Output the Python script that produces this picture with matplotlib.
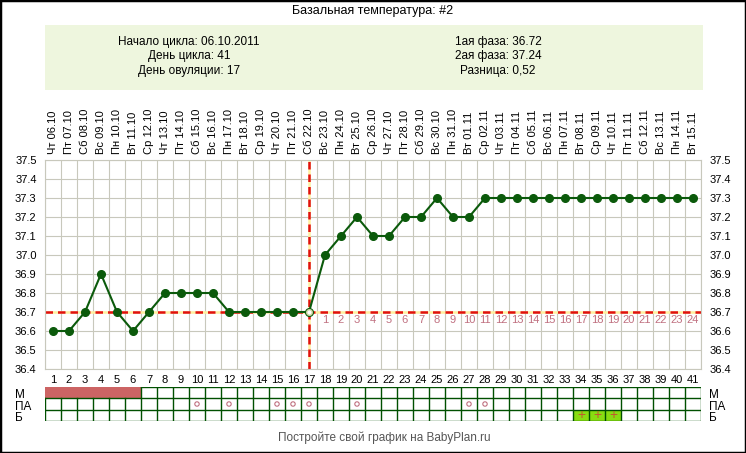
import matplotlib
matplotlib.use('Agg')
import matplotlib.pyplot as plt
import numpy as np
from matplotlib.patches import Rectangle

plt.rcParams['font.family'] = ['Liberation Sans', 'DejaVu Sans']

# data
days = np.arange(1, 42)
temps = [36.6, 36.6, 36.7, 36.9, 36.7, 36.6, 36.7, 36.8, 36.8, 36.8,
         36.8, 36.7, 36.7, 36.7, 36.7, 36.7, 36.7, 37.0, 37.1, 37.2,
         37.1, 37.1, 37.2, 37.2, 37.3, 37.2, 37.2, 37.3, 37.3, 37.3,
         37.3, 37.3, 37.3, 37.3, 37.3, 37.3, 37.3, 37.3, 37.3, 37.3, 37.3]
dates = ['Чт 06.10', 'Пт 07.10', 'Сб 08.10', 'Вс 09.10', 'Пн 10.10', 'Вт 11.10',
         'Ср 12.10', 'Чт 13.10', 'Пт 14.10', 'Сб 15.10', 'Вс 16.10', 'Пн 17.10',
         'Вт 18.10', 'Ср 19.10', 'Чт 20.10', 'Пт 21.10', 'Сб 22.10', 'Вс 23.10',
         'Пн 24.10', 'Вт 25.10', 'Ср 26.10', 'Чт 27.10', 'Пт 28.10', 'Сб 29.10',
         'Вс 30.10', 'Пн 31.10', 'Вт 01.11', 'Ср 02.11', 'Чт 03.11', 'Пт 04.11',
         'Сб 05.11', 'Вс 06.11', 'Пн 07.11', 'Вт 08.11', 'Ср 09.11', 'Чт 10.11',
         'Пт 11.11', 'Сб 12.11', 'Вс 13.11', 'Пн 14.11', 'Вт 15.11']
ovulation_day = 17
cover_line = 36.7
menses_days = [1, 2, 3, 4, 5, 6]
pa_days = [10, 12, 15, 16, 17, 20, 27, 28]
b_days = [34, 35, 36]
yticks = [36.4, 36.5, 36.6, 36.7, 36.8, 36.9, 37.0, 37.1, 37.2, 37.3, 37.4, 37.5]

info_left = ['Начало цикла: 06.10.2011', 'День цикла: 41', 'День овуляции: 17']
info_right = ['1ая фаза: 36.72', '2ая фаза: 37.24', 'Разница: 0,52']

W, H = 746, 453
def px(x0, y0, x1, y1):
    return [x0 / W, 1 - y1 / H, (x1 - x0) / W, (y1 - y0) / H]

grid_c = '#c8c8bc'
green = '#0b5a0b'
pink = '#c07080'
tab_c = '#005000'

fig = plt.figure(figsize=(W / 100, H / 100), dpi=100)
fig.patch.set_facecolor('white')

# frame and header
fig.add_artist(Rectangle((0, 0), 1, 1, transform=fig.transFigure, fill=False,
                         edgecolor='black', lw=2.5))
fig.text(373 / W, 1 - 11 / H, 'Базальная температура: #2', ha='center', va='center', fontsize=9)
fig.add_artist(Rectangle((45 / W, 1 - 90 / H), 658 / W, 65 / H, transform=fig.transFigure,
                         facecolor='#eef6de', edgecolor='none'))
for i, (a, b) in enumerate(zip(info_left, info_right)):
    y = 1 - (42 + i * 14.5) / H
    fig.text(189 / W, y, a, ha='center', va='center', fontsize=8.5)
    fig.text(498 / W, y, b, ha='center', va='center', fontsize=8.5)

# main chart
ax = fig.add_axes(px(45, 160, 701, 369))
ax.set_xlim(0.5, 41.5)
ax.set_ylim(36.4, 37.5)
ax.set_xticks(days)
ax.set_xticklabels([str(d) for d in days], fontsize=8)
ax.set_xticks(np.arange(0.5, 42, 1), minor=True)
ax.set_yticks(yticks)
ax.set_yticklabels(['%.1f' % t for t in yticks], fontsize=8)
ax.tick_params(which='both', length=0)
ax.tick_params(axis='y', labelleft=True, labelright=True, pad=6)
ax.tick_params(axis='x', pad=4)
ax.grid(which='minor', axis='x', color=grid_c, lw=0.8)
ax.grid(which='major', axis='y', color=grid_c, lw=0.8)
for s in ax.spines.values():
    s.set_color(grid_c)

top = ax.secondary_xaxis('top')
top.set_xticks(days)
top.set_xticklabels(dates, rotation=90, fontsize=8)
top.tick_params(length=0, pad=4)
top.spines['top'].set_visible(False)

# cover line and ovulation day
ax.axhline(cover_line, color='#fff0a0', lw=1.8, zorder=2)
ax.axhline(cover_line, color='#e01010', lw=1.8, ls=(0, (3, 2)), zorder=2)
ax.axvline(ovulation_day, color='#fff0a0', lw=1.8, zorder=2)
ax.axvline(ovulation_day, color='#e01010', lw=1.8, ls=(0, (3, 2)), zorder=2)

ax.plot(days, temps, color=green, lw=1.5, marker='o', ms=5.5, zorder=3)
ax.plot([ovulation_day], [temps[ovulation_day - 1]], 'o', ms=4, mfc='white',
        mec='#c8d8a0', zorder=4)

# second phase day numbers
for k, d in enumerate(days[days > ovulation_day]):
    ax.text(d, cover_line - 0.015, str(k + 1), color=pink, fontsize=8,
            ha='center', va='top', zorder=4)

# bottom table
tb = fig.add_axes(px(45, 387, 701, 421))
tb.set_xlim(0.5, 41.5)
tb.set_ylim(3, 0)
tb.axis('off')
for d in menses_days:
    tb.add_patch(Rectangle((d - 0.5, 0), 1, 1, facecolor='#cc6464', edgecolor='none'))
for d in b_days:
    tb.add_patch(Rectangle((d - 0.5, 2), 1, 1, facecolor='#88dd11', edgecolor='none'))
    tb.text(d, 2.5, '+', color='#c05a30', ha='center', va='center', fontsize=10)
tb.scatter(pa_days, [1.5] * len(pa_days), s=10, facecolors='none', edgecolors=pink, lw=0.8)
m_end = max(menses_days) + 0.5
for r in range(4):
    if r == 0:
        tb.plot([m_end, 41.5], [0, 0], color=tab_c, lw=1.0)
    else:
        tb.axhline(r, color=tab_c, lw=1.0)
for x in np.arange(0.5, 42, 1):
    y0 = 1 if x < m_end else 0
    tb.plot([x, x], [y0, 3], color=tab_c, lw=1.0)

row_labels = ['М', 'ПА', 'Б']
for i, lab in enumerate(row_labels):
    y = 1 - (395.5 + i * 11.3) / H
    fig.text(15 / W, y, lab, ha='left', va='center', fontsize=8.5)
    fig.text(709 / W, y, lab, ha='left', va='center', fontsize=8.5)

fig.text(384 / W, 1 - 438 / H, 'Постройте свой график на BabyPlan.ru', ha='center',
         va='center', fontsize=8.5, color='#555555')

fig.savefig('out.png', dpi=100)
